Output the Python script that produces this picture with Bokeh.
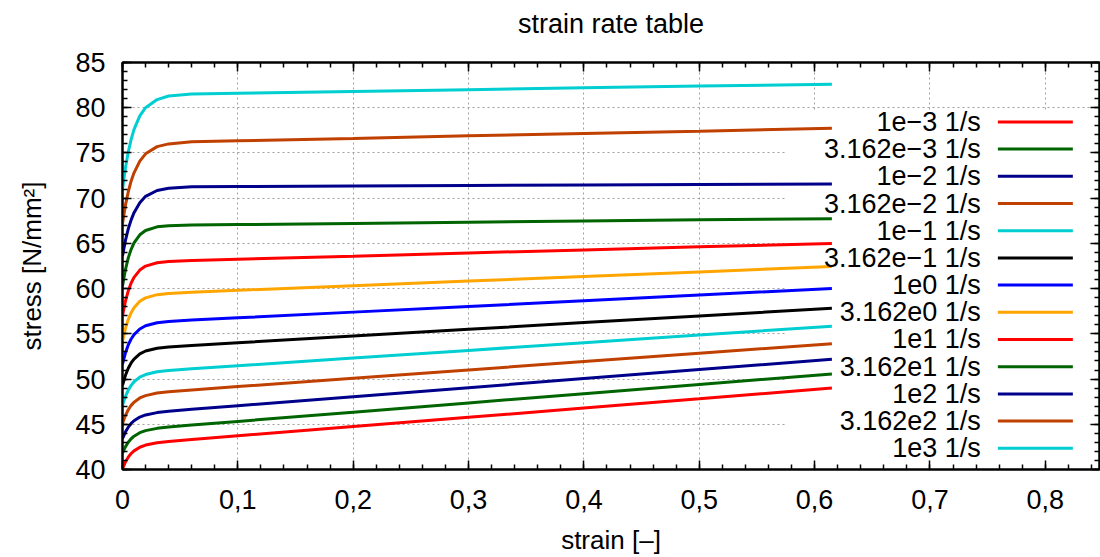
from bokeh.plotting import figure
from bokeh.models import (Range1d, LinearAxis, FixedTicker, ColumnDataSource,
                          CustomJSTickFormatter)
from bokeh.core.properties import value
from bokeh.embed import file_html
from bokeh.resources import INLINE

# ---------------- data ----------------
strain = [0, 0.0025, 0.005, 0.0075, 0.01, 0.015, 0.02, 0.03, 0.04, 0.06,
          0.1, 0.2, 0.3, 0.4, 0.5, 0.615]

s_1e_3     = [40.1, 40.82, 41.36, 41.77, 42.06, 42.46, 42.7, 42.96, 43.1, 43.32, 43.73, 44.75, 45.77, 46.79, 47.81, 49.0]
s_3162e_3  = [41.8, 42.5, 43.01, 43.4, 43.68, 44.07, 44.3, 44.55, 44.69, 44.91, 45.32, 46.34, 47.36, 48.38, 49.4, 50.57]
s_1e_2     = [43.4, 44.14, 44.68, 45.09, 45.39, 45.8, 46.03, 46.29, 46.43, 46.65, 47.05, 48.05, 49.05, 50.05, 51.05, 52.2]
s_3162e_2  = [45.1, 45.96, 46.61, 47.09, 47.44, 47.91, 48.17, 48.46, 48.6, 48.8, 49.17, 50.09, 51.01, 51.93, 52.85, 53.91]
s_1e_1     = [47.1, 48.06, 48.78, 49.3, 49.7, 50.21, 50.5, 50.8, 50.94, 51.13, 51.47, 52.32, 53.17, 54.02, 54.87, 55.85]
s_3162e_1  = [49.3, 50.39, 51.19, 51.78, 52.21, 52.78, 53.1, 53.41, 53.55, 53.72, 54.02, 54.76, 55.5, 56.24, 56.98, 57.83]
s_1e0      = [51.66, 52.88, 53.77, 54.43, 54.91, 55.54, 55.9, 56.22, 56.36, 56.52, 56.77, 57.4, 58.03, 58.66, 59.29, 60.01]
s_3162e0   = [54.2, 55.58, 56.6, 57.34, 57.89, 58.6, 58.98, 59.33, 59.47, 59.61, 59.81, 60.32, 60.83, 61.34, 61.85, 62.44]
s_1e1      = [57.0, 58.59, 59.76, 60.62, 61.24, 62.05, 62.49, 62.86, 63.0, 63.11, 63.25, 63.59, 63.94, 64.28, 64.63, 64.98]
s_3162e1   = [60.3, 62.08, 63.4, 64.35, 65.05, 65.95, 66.43, 66.83, 66.96, 67.03, 67.08, 67.21, 67.34, 67.47, 67.6, 67.73]
s_1e2      = [63.6, 65.3, 66.6, 67.6, 68.4, 69.5, 70.2, 70.85, 71.1, 71.26, 71.28, 71.34, 71.4, 71.46, 71.52, 71.58]
s_3162e2   = [67.2, 69.2, 70.7, 71.9, 72.8, 74.1, 74.9, 75.7, 76.0, 76.23, 76.34, 76.6, 76.9, 77.15, 77.4, 77.74]
s_1e3      = [71.0, 73.3, 75.1, 76.5, 77.6, 79.1, 80.0, 80.9, 81.3, 81.52, 81.6, 81.8, 82.0, 82.2, 82.4, 82.6]

series = [s_1e_3, s_3162e_3, s_1e_2, s_3162e_2, s_1e_1, s_3162e_1, s_1e0,
          s_3162e0, s_1e1, s_3162e1, s_1e2, s_3162e2, s_1e3]

labels = ["1e\u22123 1/s", "3.162e\u22123 1/s", "1e\u22122 1/s", "3.162e\u22122 1/s",
          "1e\u22121 1/s", "3.162e\u22121 1/s", "1e0 1/s", "3.162e0 1/s",
          "1e1 1/s", "3.162e1 1/s", "1e2 1/s", "3.162e2 1/s", "1e3 1/s"]

colors = ["#ff0000", "#006400", "#00008b", "#c04000", "#00ced1", "#000000",
          "#0000ff", "#ffa500", "#ff0000", "#006400", "#00008b", "#c04000", "#00ced1"]

x_ticks = [0, 0.1, 0.2, 0.3, 0.4, 0.5, 0.6, 0.7, 0.8]
x_tick_labels = ["0", "0,1", "0,2", "0,3", "0,4", "0,5", "0,6", "0,7", "0,8"]
y_ticks = [40, 45, 50, 55, 60, 65, 70, 75, 80, 85]
y_tick_labels = ["40", "45", "50", "55", "60", "65", "70", "75", "80", "85"]

title_text = "strain rate table"
x_label = "strain [\u2013]"
y_label = "stress [N/mm\u00b2]"

# ---------------- layout constants ----------------
FONT = "Liberation Sans"
X_MAX = 0.847
Y_MIN, Y_MAX = 40, 85
LEG_LABEL_X = 0.7441
LEG_LINE_X0, LEG_LINE_X1 = 0.7589, 0.8239
LEG_Y0, LEG_DY = 78.43, 3.007
LEG_BOX = (0.575, 0.838, 79.72, 40.9)  # left, right, top, bottom

p = figure(width=1100, height=557, output_backend="svg", toolbar_location=None,
           x_range=Range1d(0, X_MAX), y_range=Range1d(Y_MIN, Y_MAX),
           min_border_left=122, min_border_right=1, min_border_top=62,
           min_border_bottom=86, background_fill_color="white",
           border_fill_color="white")

p.outline_line_color = "black"
p.outline_line_width = 2

x_minor = [round(i * 0.02, 2) for i in range(43)]
y_minor = list(range(40, 86))
xticker = FixedTicker(ticks=x_ticks, minor_ticks=x_minor)
yticker = FixedTicker(ticks=y_ticks, minor_ticks=y_minor)

def style_axis(ax, show_labels):
    ax.axis_line_color = "black"
    ax.axis_line_width = 2
    ax.major_tick_line_color = "black"
    ax.major_tick_line_width = 1.5
    ax.minor_tick_line_color = "black"
    ax.minor_tick_line_width = 1.5
    ax.major_tick_in = 9
    ax.major_tick_out = 0
    ax.minor_tick_in = 5
    ax.minor_tick_out = 0
    ax.axis_label_text_font = FONT
    ax.axis_label_text_font_style = "normal"
    ax.axis_label_text_color = "black"
    if show_labels:
        ax.major_label_text_font = FONT
        ax.major_label_text_font_size = "27px"
        ax.major_label_text_color = "black"
        ax.axis_label_text_font_size = "26px"
    else:
        ax.formatter = CustomJSTickFormatter(code="return ''")
        ax.major_label_text_font_size = "1px"
        ax.major_label_standoff = 0

xa = p.xaxis[0]
xa.ticker = xticker
xa.major_label_overrides = dict(zip(x_ticks, x_tick_labels))
xa.axis_label = x_label
style_axis(xa, True)
xa.major_label_standoff = 20
xa.axis_label_standoff = 13

ya = p.yaxis[0]
ya.ticker = yticker
ya.major_label_overrides = dict(zip(y_ticks, y_tick_labels))
ya.axis_label = y_label
style_axis(ya, True)
ya.major_label_standoff = 17
ya.axis_label_standoff = 25

# mirrored top axis; its label carries the chart title
top_ax = LinearAxis(ticker=xticker)
style_axis(top_ax, False)
top_ax.axis_label = title_text
top_ax.axis_label_text_font_size = "27px"
top_ax.axis_label_standoff = 24
p.add_layout(top_ax, "above")

right_ax = LinearAxis(ticker=yticker)
style_axis(right_ax, False)
p.add_layout(right_ax, "right")

for g in (p.xgrid[0], p.ygrid[0]):
    g.grid_line_color = "#a0a0a0"
    g.grid_line_dash = "2 3"
    g.grid_line_width = 1
p.xgrid[0].ticker = xticker
p.ygrid[0].ticker = yticker

# opaque key background
p.quad(left=[LEG_BOX[0]], right=[LEG_BOX[1]], top=[LEG_BOX[2]], bottom=[LEG_BOX[3]],
       fill_color="white", line_color=None)

for vals, col in zip(series, colors):
    p.line(strain, vals, line_color=col, line_width=3)

n = len(labels)
leg_y = [LEG_Y0 - i * LEG_DY for i in range(n)]
src = ColumnDataSource(dict(label=labels, y=leg_y, x=[LEG_LABEL_X] * n,
                            x0=[LEG_LINE_X0] * n, x1=[LEG_LINE_X1] * n, color=colors))
p.text(x="x", y="y", text="label", source=src, text_align="right",
       text_baseline="middle", text_font=value(FONT), text_font_size="27px",
       text_color="black")
p.segment(x0="x0", y0="y", x1="x1", y1="y", source=src, line_color="color",
          line_width=3)

open("out.html", "w").write(file_html(p, INLINE))
